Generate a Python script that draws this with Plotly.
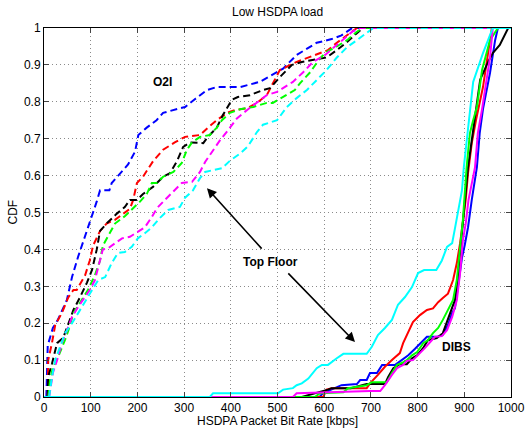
import plotly.graph_objects as go

colors = ["#0000ff", "#ff0000", "#000000", "#00ff00", "#ff00ff", "#00ffff"]

# ---- O2I (dashed) ----
o2i_blue_x = [5, 8, 19, 30, 49, 60, 73, 88, 98, 105, 113, 120, 140, 145, 163, 180, 195, 202, 220, 241, 255, 277, 302, 323, 349, 370, 420, 462, 512, 541, 584, 616, 637, 660, 1000]
o2i_blue_y = [0, 0.14, 0.187, 0.21, 0.263, 0.325, 0.38, 0.434, 0.47, 0.50, 0.53, 0.56, 0.56, 0.58, 0.607, 0.63, 0.665, 0.71, 0.73, 0.75, 0.77, 0.778, 0.786, 0.807, 0.832, 0.84, 0.84, 0.854, 0.89, 0.927, 0.96, 0.97, 0.98, 1.0, 1.0]

o2i_red_x = [8, 9, 17, 24, 38, 52, 63, 70, 88, 98, 105, 120, 134, 152, 170, 184, 191, 195, 199, 212, 234, 255, 280, 302, 334, 351, 370, 392, 409, 434, 456, 477, 505, 541, 580, 608, 627, 649, 670, 1000]
o2i_red_y = [0, 0.10, 0.146, 0.195, 0.227, 0.27, 0.29, 0.29, 0.33, 0.37, 0.41, 0.45, 0.47, 0.48, 0.497, 0.51, 0.534, 0.556, 0.58, 0.597, 0.64, 0.67, 0.69, 0.705, 0.71, 0.73, 0.75, 0.77, 0.778, 0.782, 0.797, 0.818, 0.886, 0.908, 0.927, 0.94, 0.96, 0.98, 1.0, 1.0]

o2i_black_x = [8, 9, 17, 28, 41, 52, 63, 77, 92, 103, 113, 120, 134, 156, 173, 184, 199, 212, 234, 255, 270, 285, 298, 313, 341, 351, 370, 383, 402, 415, 441, 469, 484, 505, 531, 552, 574, 605, 627, 649, 670, 683, 1000]
o2i_black_y = [0, 0.054, 0.09, 0.146, 0.16, 0.2, 0.236, 0.27, 0.31, 0.345, 0.4, 0.45, 0.47, 0.497, 0.515, 0.534, 0.534, 0.55, 0.57, 0.597, 0.607, 0.64, 0.678, 0.69, 0.688, 0.705, 0.73, 0.764, 0.805, 0.813, 0.818, 0.832, 0.837, 0.867, 0.9, 0.908, 0.913, 0.92, 0.94, 0.962, 0.986, 1.0, 1.0]

o2i_green_x = [9, 13, 19, 30, 45, 52, 63, 77, 94, 109, 120, 126, 141, 152, 173, 188, 206, 220, 231, 242, 255, 277, 295, 306, 317, 334, 355, 370, 381, 398, 420, 448, 477, 490, 537, 548, 570, 591, 605, 627, 649, 670, 683, 1000]
o2i_green_y = [0, 0.046, 0.08, 0.108, 0.155, 0.18, 0.227, 0.255, 0.29, 0.33, 0.37, 0.41, 0.444, 0.47, 0.49, 0.507, 0.53, 0.55, 0.58, 0.58, 0.597, 0.61, 0.634, 0.67, 0.69, 0.705, 0.71, 0.73, 0.75, 0.77, 0.78, 0.786, 0.797, 0.797, 0.832, 0.85, 0.88, 0.918, 0.935, 0.95, 0.967, 0.99, 1.0, 1.0]

o2i_magenta_x = [11, 19, 28, 38, 49, 60, 73, 84, 98, 109, 120, 126, 137, 152, 167, 184, 201, 216, 231, 242, 259, 276, 295, 317, 334, 345, 362, 377, 394, 413, 435, 456, 477, 499, 533, 555, 576, 602, 623, 640, 660, 677, 1000]
o2i_magenta_y = [0, 0.065, 0.1, 0.146, 0.18, 0.217, 0.244, 0.263, 0.29, 0.317, 0.37, 0.4, 0.403, 0.417, 0.43, 0.434, 0.447, 0.46, 0.488, 0.512, 0.534, 0.556, 0.58, 0.583, 0.61, 0.637, 0.67, 0.696, 0.723, 0.755, 0.778, 0.797, 0.818, 0.827, 0.854, 0.88, 0.908, 0.927, 0.95, 0.967, 0.99, 1.0, 1.0]

o2i_cyan_x = [11, 17, 24, 34, 45, 60, 73, 88, 103, 116, 131, 145, 158, 173, 188, 201, 216, 231, 248, 266, 291, 302, 319, 334, 345, 366, 381, 398, 420, 437, 456, 469, 484, 499, 520, 541, 563, 584, 605, 627, 649, 670, 691, 705, 1000]
o2i_cyan_y = [0, 0.054, 0.1, 0.136, 0.173, 0.2, 0.227, 0.255, 0.29, 0.317, 0.325, 0.363, 0.39, 0.393, 0.407, 0.43, 0.444, 0.46, 0.485, 0.507, 0.515, 0.54, 0.56, 0.593, 0.61, 0.615, 0.62, 0.64, 0.66, 0.68, 0.718, 0.738, 0.745, 0.75, 0.786, 0.81, 0.832, 0.859, 0.886, 0.92, 0.948, 0.967, 0.986, 1.0, 1.0]

# ---- DIBS (solid) ----
dibs_blue_x = [0, 590, 597, 637, 670, 677, 691, 698, 713, 724, 752, 766, 780, 794, 809, 820, 841, 854, 865, 874, 880, 887, 895, 901, 908, 916, 927, 933, 940, 955, 966, 972, 1000]
dibs_blue_y = [0, 0, 0.01, 0.032, 0.035, 0.046, 0.046, 0.065, 0.065, 0.087, 0.087, 0.1, 0.113, 0.13, 0.149, 0.163, 0.163, 0.168, 0.195, 0.228, 0.241, 0.309, 0.377, 0.412, 0.46, 0.534, 0.623, 0.715, 0.78, 0.878, 0.967, 1.0, 1.0]

dibs_red_x = [0, 598, 605, 616, 691, 698, 715, 730, 745, 756, 762, 769, 779, 790, 805, 820, 833, 844, 854, 865, 876, 884, 891, 897, 903, 908, 916, 925, 940, 955, 959, 1000]
dibs_red_y = [0, 0, 0.02, 0.024, 0.024, 0.037, 0.06, 0.082, 0.1, 0.113, 0.119, 0.146, 0.173, 0.203, 0.222, 0.236, 0.24, 0.257, 0.268, 0.28, 0.317, 0.363, 0.417, 0.47, 0.534, 0.607, 0.688, 0.75, 0.84, 0.967, 1.0, 1.0]

dibs_black_x = [0, 552, 608, 616, 657, 691, 730, 737, 748, 762, 777, 788, 799, 812, 822, 841, 854, 869, 880, 887, 895, 901, 908, 923, 934, 951, 961, 976, 994, 1000]
dibs_black_y = [0, 0, 0.02, 0.024, 0.024, 0.035, 0.035, 0.054, 0.078, 0.089, 0.089, 0.105, 0.113, 0.133, 0.154, 0.16, 0.173, 0.228, 0.263, 0.336, 0.444, 0.534, 0.623, 0.76, 0.86, 0.908, 0.932, 0.954, 1.0, 1.0]

dibs_green_x = [0, 580, 591, 641, 651, 691, 702, 734, 745, 756, 766, 777, 788, 799, 812, 822, 833, 844, 854, 865, 876, 884, 891, 897, 905, 912, 919, 927, 938, 955, 972, 1000]
dibs_green_y = [0, 0, 0.01, 0.013, 0.024, 0.032, 0.04, 0.04, 0.065, 0.087, 0.092, 0.1, 0.113, 0.122, 0.146, 0.154, 0.173, 0.187, 0.209, 0.236, 0.263, 0.317, 0.4, 0.48, 0.623, 0.715, 0.75, 0.786, 0.886, 0.967, 1.0, 1.0]

dibs_magenta_x = [0, 533, 541, 605, 698, 720, 730, 745, 756, 769, 777, 790, 801, 816, 827, 837, 852, 863, 874, 884, 891, 897, 903, 909, 923, 929, 938, 949, 955, 961, 1000]
dibs_magenta_y = [0, 0, 0.01, 0.013, 0.016, 0.016, 0.032, 0.06, 0.078, 0.087, 0.098, 0.1, 0.113, 0.133, 0.149, 0.163, 0.165, 0.181, 0.217, 0.263, 0.336, 0.425, 0.47, 0.534, 0.623, 0.715, 0.78, 0.867, 0.92, 1.0, 1.0]

dibs_cyan_x = [0, 355, 362, 501, 512, 533, 541, 552, 566, 584, 595, 608, 627, 641, 691, 702, 715, 730, 745, 758, 773, 788, 801, 814, 840, 852, 863, 874, 880, 887, 895, 899, 904, 910, 919, 940, 961, 1000]
dibs_cyan_y = [0, 0, 0.01, 0.01, 0.02, 0.024, 0.032, 0.037, 0.05, 0.078, 0.087, 0.087, 0.105, 0.117, 0.117, 0.136, 0.168, 0.187, 0.209, 0.25, 0.271, 0.298, 0.336, 0.344, 0.344, 0.37, 0.407, 0.417, 0.457, 0.507, 0.56, 0.623, 0.688, 0.75, 0.854, 0.932, 1.0, 1.0]

o2i = [(o2i_blue_x, o2i_blue_y), (o2i_red_x, o2i_red_y), (o2i_black_x, o2i_black_y),
       (o2i_green_x, o2i_green_y), (o2i_magenta_x, o2i_magenta_y), (o2i_cyan_x, o2i_cyan_y)]
dibs = [(dibs_blue_x, dibs_blue_y), (dibs_red_x, dibs_red_y), (dibs_black_x, dibs_black_y),
        (dibs_green_x, dibs_green_y), (dibs_magenta_x, dibs_magenta_y), (dibs_cyan_x, dibs_cyan_y)]

x_ticks = list(range(0, 1001, 100))
y_ticks = [0, 0.1, 0.2, 0.3, 0.4, 0.5, 0.6, 0.7, 0.8, 0.9, 1]
y_ticklabels = ["0", "0.1", "0.2", "0.3", "0.4", "0.5", "0.6", "0.7", "0.8", "0.9", "1"]

fig = go.Figure()
for (x, y), c in zip(o2i, colors):
    fig.add_trace(go.Scatter(x=x, y=y, mode="lines",
                             line=dict(color=c, width=2, dash="7px,4px"),
                             showlegend=False, hoverinfo="skip"))
for (x, y), c in zip(dibs, colors):
    fig.add_trace(go.Scatter(x=x, y=y, mode="lines",
                             line=dict(color=c, width=2),
                             showlegend=False, hoverinfo="skip"))

font_main = "Liberation Sans, Arial, Helvetica, sans-serif"

annotations = [
    dict(x=253, y=0.854, text="<b>O2I</b>", showarrow=False, font=dict(size=12, color="black")),
    dict(x=484, y=0.366, text="<b>Top Floor</b>", showarrow=False, font=dict(size=12, color="black")),
    dict(x=884, y=0.136, text="<b>DIBS</b>", showarrow=False, font=dict(size=12, color="black")),
    dict(x=349, y=0.566, ax=469, ay=0.398, xref="x", yref="y", axref="x", ayref="y",
         text="", showarrow=True, arrowhead=2, arrowsize=1.2, arrowwidth=1.6, arrowcolor="black"),
    dict(x=666, y=0.149, ax=520, ay=0.339, xref="x", yref="y", axref="x", ayref="y",
         text="", showarrow=True, arrowhead=2, arrowsize=1.2, arrowwidth=1.6, arrowcolor="black"),
    dict(x=(277 - 44) / 467, y=-(421 - 397) / 369, xref="paper", yref="paper",
         text="HSDPA Packet Bit Rate [kbps]",
         showarrow=False, xanchor="center", yanchor="middle", font=dict(size=12)),
    dict(x=-32 / 467, y=0.5, xref="paper", yref="paper", text="CDF", textangle=-90,
         showarrow=False, xanchor="center", yanchor="middle", font=dict(size=12)),
    dict(x=(277 - 44) / 467, y=1 + 16 / 369, xref="paper", yref="paper", text="Low HSDPA load",
         showarrow=False, xanchor="center", yanchor="middle", font=dict(size=12)),
]

axis_common = dict(ticks="inside", ticklen=5, showline=True, linecolor="black", linewidth=1,
                   mirror="allticks", showgrid=True, gridcolor="#8a8a8a", griddash="1px,3px",
                   gridwidth=1, zeroline=False, tickfont=dict(size=12), automargin=False)

fig.update_layout(
    width=527, height=432,
    margin=dict(l=44, r=16, t=28, b=35),
    paper_bgcolor="white", plot_bgcolor="white",
    font=dict(family=font_main, size=12, color="black"),
    annotations=annotations,
    xaxis=dict(range=[0, 1000], tickvals=x_ticks, **axis_common),
    yaxis=dict(range=[0, 1], tickvals=y_ticks, ticktext=y_ticklabels, **axis_common),
)

fig.write_html("out.html", config={"displayModeBar": False},
               post_script="document.body.style.margin='0';document.body.style.padding='0';")
